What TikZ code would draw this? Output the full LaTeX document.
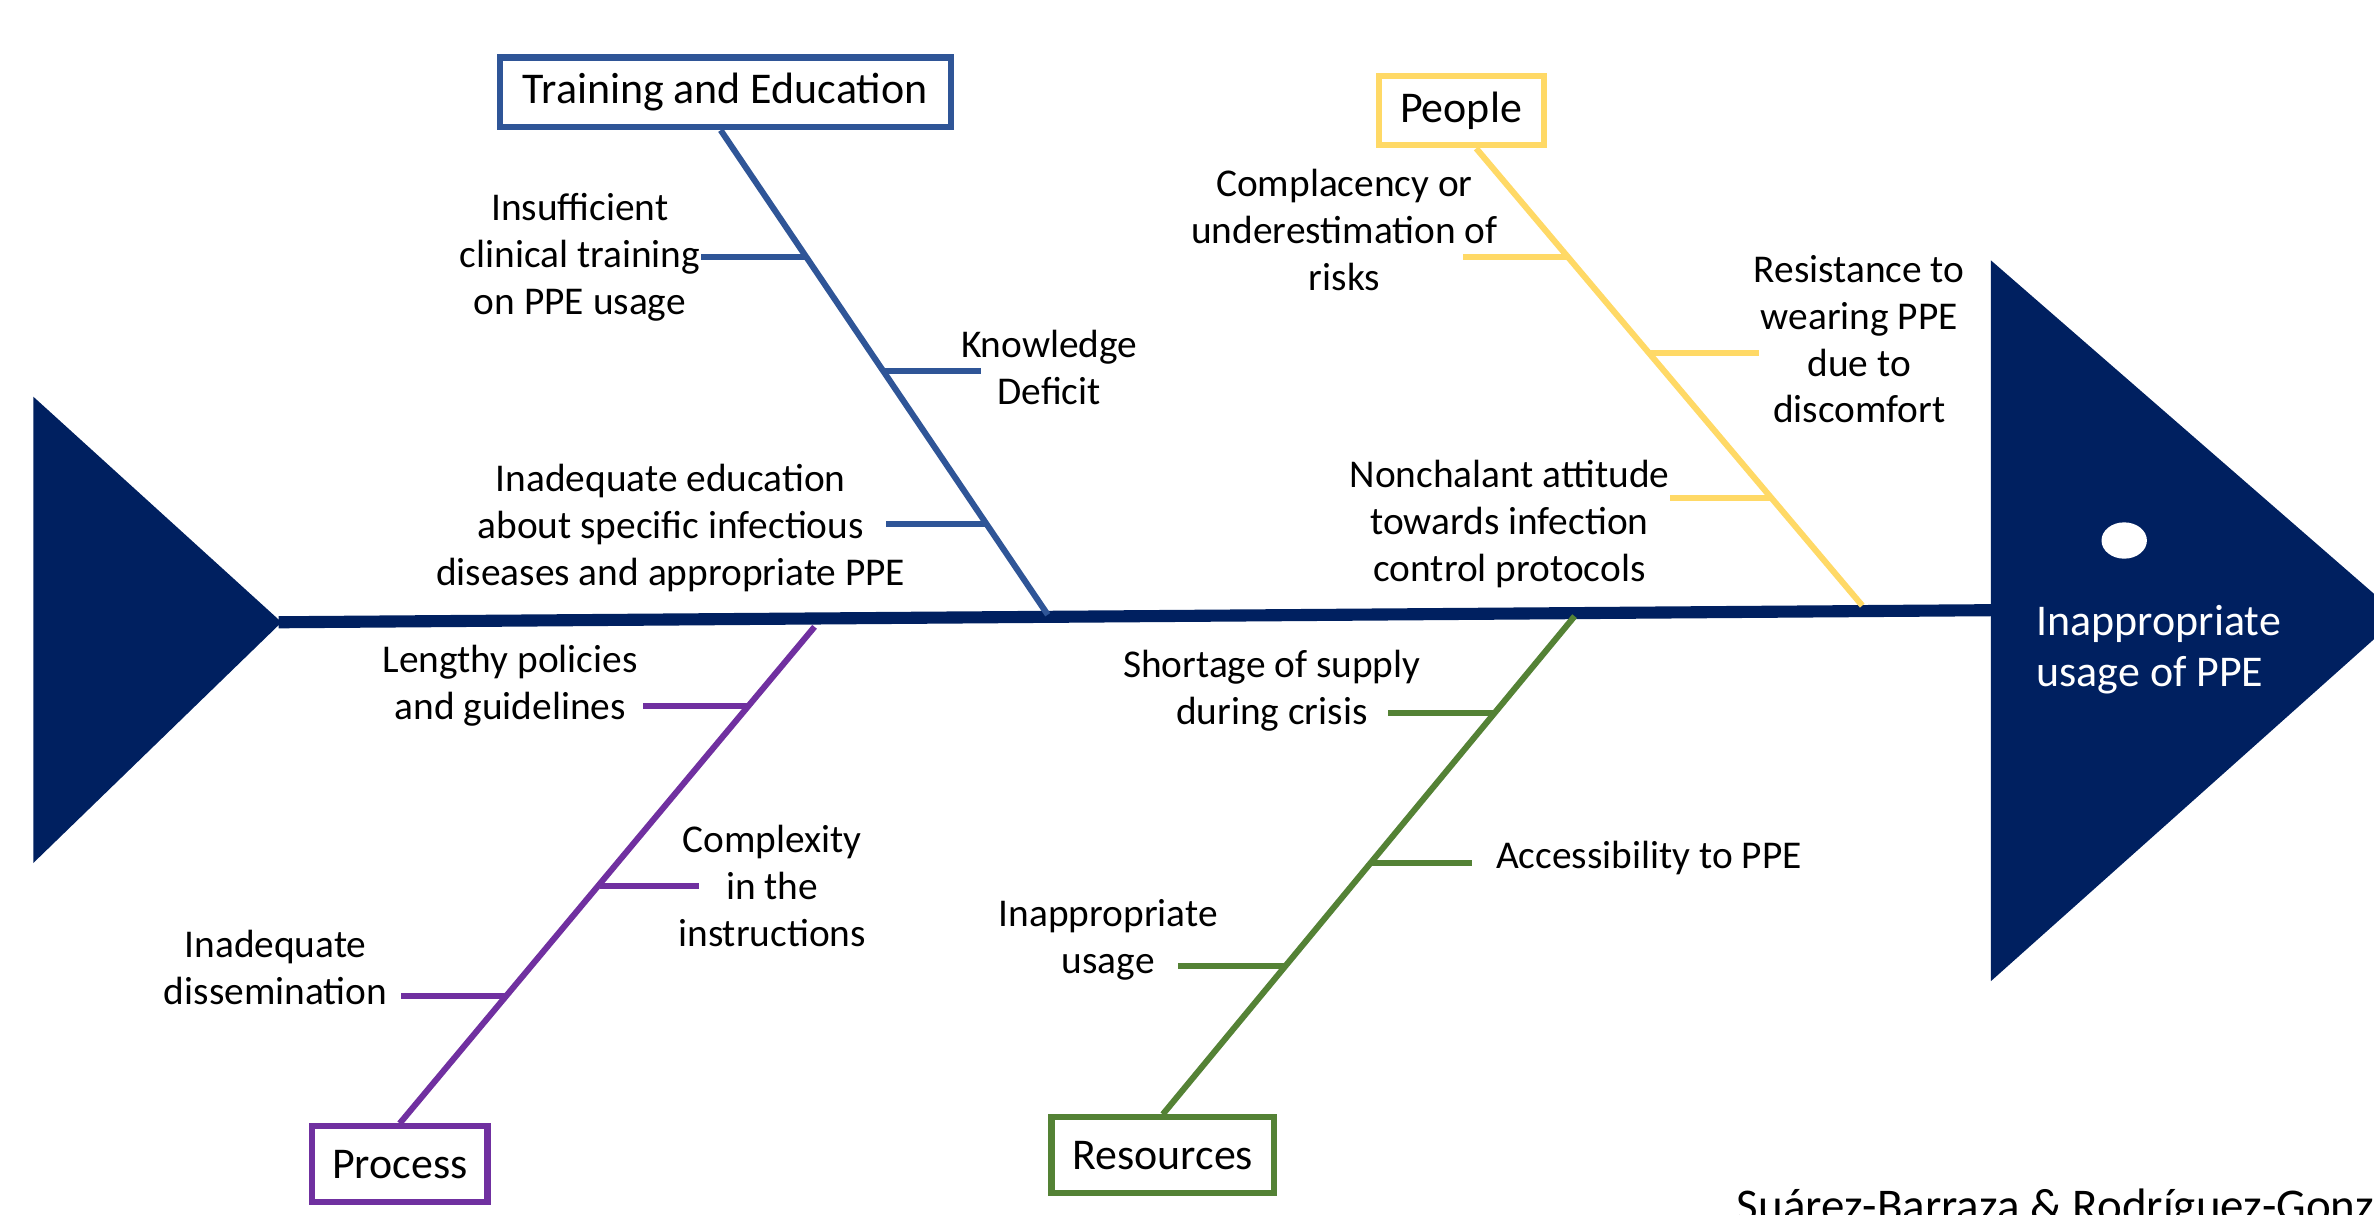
\documentclass[tikz,border=0pt]{standalone}
\usepackage{fontspec}
\setmainfont{Carlito}
\definecolor{navy}{RGB}{0,32,96}
\definecolor{tblue}{RGB}{47,85,151}
\definecolor{pyellow}{RGB}{255,217,102}
\definecolor{ppurple}{RGB}{112,48,160}
\definecolor{rgreen}{RGB}{84,130,53}
\begin{document}
\begin{tikzpicture}[x=1pt,y=-1pt,
  cat/.style={draw=#1,line width=4pt,fill=white,inner xsep=10pt,inner ysep=6pt,font=\fontsize{29}{34}\selectfont},
  bone/.style={draw=#1,line width=4pt},
  lbl/.style={align=center,inner sep=0pt,font=\fontsize{26}{31}\selectfont}]
\useasboundingbox (0,0) rectangle (1568,802);
% tail and head
\fill[navy] (22,262) -- (186,411) -- (22,570) -- cycle;
\fill[navy] (1315,172) -- (1585,407) -- (1315,648) -- cycle;
\fill[white] (1403,357) ellipse (15pt and 12pt);
\node[anchor=west,align=left,inner sep=0pt,text=white,font=\fontsize{29}{34}\selectfont] (effect) at (1345,429) {Inappropriate\\usage of PPE};
% spine
\coordinate (sL) at (184,411);
\coordinate (sR) at (1318,403);
\draw[navy,line width=8pt] (sL) -- (sR);
% Training and Education
\node[cat=tblue,minimum width=298pt,minimum height=46pt] (te) at (479,61) {Training and Education};
\coordinate (teE) at (692,406);
\draw[bone=tblue] (te.south) ++(-3,0) coordinate (teS) -- (teE);
\coordinate (te1) at (532,170); \coordinate (te1e) at (463,170);
\coordinate (te2) at (583,245); \coordinate (te2e) at (648,245);
\coordinate (te3) at (651,346); \coordinate (te3e) at (585,346);
\draw[bone=tblue] (te1) -- (te1e);
\draw[bone=tblue] (te2) -- (te2e);
\draw[bone=tblue] (te3) -- (te3e);
\node[lbl] (l11) at (383,170) {Insufficient\\clinical training\\on PPE usage};
\node[lbl] (l12) at (693,243) {Knowledge\\Deficit};
\node[lbl] (l13) at (443,349) {Inadequate education\\about specific infectious\\diseases and appropriate PPE};
% People
\node[cat=pyellow,minimum width=109pt,minimum height=46pt] (pe) at (965,73) {People};
\coordinate (peE) at (1230,400);
\draw[bone=pyellow] (pe.south) ++(10,0) coordinate (peS) -- (peE);
\coordinate (pe1) at (1036,170); \coordinate (pe1e) at (966,170);
\coordinate (pe2) at (1090,233); \coordinate (pe2e) at (1162,233);
\coordinate (pe3) at (1171,329); \coordinate (pe3e) at (1103,329);
\draw[bone=pyellow] (pe1) -- (pe1e);
\draw[bone=pyellow] (pe2) -- (pe2e);
\draw[bone=pyellow] (pe3) -- (pe3e);
\node[lbl] (l21) at (888,152) {Complacency or\\underestimation of\\risks};
\node[lbl] (l22) at (1228,224) {Resistance to\\wearing PPE\\due to\\discomfort};
\node[lbl] (l23) at (997,346) {Nonchalant attitude\\towards infection\\control protocols};
% Process
\node[cat=ppurple,minimum width=116pt,minimum height=50pt] (pr) at (264,769) {Process};
\coordinate (prE) at (538,414);
\draw[bone=ppurple] (pr.north) -- (prE);
\coordinate (pr1) at (495,466); \coordinate (pr1e) at (425,466);
\coordinate (pr2) at (396,585); \coordinate (pr2e) at (462,585);
\coordinate (pr3) at (335,658); \coordinate (pr3e) at (265,658);
\draw[bone=ppurple] (pr1) -- (pr1e);
\draw[bone=ppurple] (pr2) -- (pr2e);
\draw[bone=ppurple] (pr3) -- (pr3e);
\node[lbl] (l31) at (337,453) {Lengthy policies\\and guidelines};
\node[lbl] (l32) at (510,585) {Complexity\\in the\\instructions};
\node[lbl] (l33) at (182,639) {Inadequate\\dissemination};
% Resources
\node[cat=rgreen,minimum width=147pt,minimum height=50pt] (re) at (768,763) {Resources};
\coordinate (reE) at (1040,407);
\draw[bone=rgreen] (re.north) -- (reE);
\coordinate (re1) at (987,471); \coordinate (re1e) at (917,471);
\coordinate (re2) at (905,570); \coordinate (re2e) at (972,570);
\coordinate (re3) at (848,638); \coordinate (re3e) at (778,638);
\draw[bone=rgreen] (re1) -- (re1e);
\draw[bone=rgreen] (re2) -- (re2e);
\draw[bone=rgreen] (re3) -- (re3e);
\node[lbl] (l41) at (840,456) {Shortage of supply\\during crisis};
\node[lbl,anchor=west] (l42) at (988,567) {Accessibility to PPE};
\node[lbl] (l43) at (732,621) {Inappropriate\\usage};
% source
\node[anchor=base west,inner sep=0pt,font=\fontsize{31}{36}\selectfont] (src) at (1147,807) {Suárez-Barraza \& Rodríguez-González};
\end{tikzpicture}
\end{document}
